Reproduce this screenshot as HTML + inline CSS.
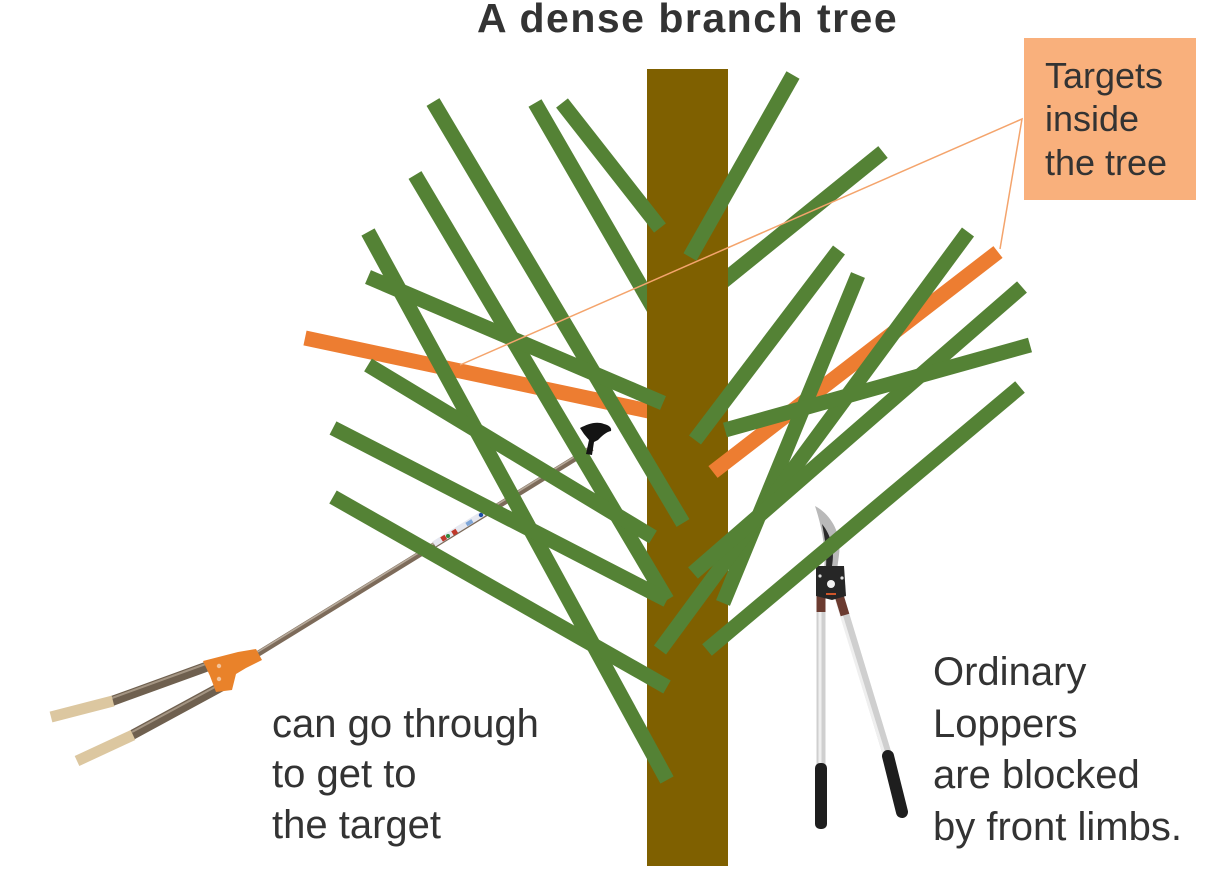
<!DOCTYPE html>
<html>
<head>
<meta charset="utf-8">
<style>
  html,body{margin:0;padding:0;background:#fff;}
  svg{display:block;}
  text{font-family:"Liberation Sans", Arial, sans-serif; fill:#333;}
</style>
</head>
<body>
<svg width="1216" height="883" viewBox="0 0 1216 883" xmlns="http://www.w3.org/2000/svg">
  <rect x="0" y="0" width="1216" height="883" fill="#fff"/>

  <!-- Title -->
  <text x="477" y="32" font-size="41" font-weight="bold" letter-spacing="1.5">A dense branch tree</text>

  <!-- Long reach lopper: pole & handles (under branches) -->
  <g>
    <line x1="592" y1="448" x2="256" y2="655" stroke="#7d6b5a" stroke-width="6"/>
    <line x1="592" y1="446" x2="256" y2="653" stroke="#b7aa9b" stroke-width="1.6"/>
    <!-- label on pole -->
    <line x1="434" y1="544" x2="484" y2="513" stroke="#e6e8f0" stroke-width="6"/>
    <rect x="441" y="536" width="5" height="5" fill="#c0392b" transform="rotate(-32 443 538)"/>
    <rect x="452" y="530" width="5" height="5" fill="#c0392b" transform="rotate(-32 454 532)"/>
    <circle cx="448" cy="536" r="2" fill="#2e8b3e"/>
    <rect x="466" y="521" width="7" height="4" fill="#7fa6d8" transform="rotate(-32 469 523)"/>
    <circle cx="481" cy="515" r="2.2" fill="#1f4fa8"/>
    <!-- upper handle -->
    <line x1="214" y1="664" x2="112" y2="701" stroke="#6f604f" stroke-width="10"/>
    <line x1="214" y1="661" x2="112" y2="698" stroke="#a49583" stroke-width="2"/>
    <line x1="113" y1="701" x2="51" y2="717" stroke="#dcc7a0" stroke-width="11"/>
    <!-- lower handle -->
    <line x1="226" y1="684" x2="132" y2="735" stroke="#6f604f" stroke-width="10"/>
    <line x1="226" y1="681" x2="132" y2="732" stroke="#a49583" stroke-width="2"/>
    <line x1="133" y1="735" x2="77" y2="761" stroke="#dcc7a0" stroke-width="11"/>
    <!-- orange bracket -->
    <path d="M203,661 L238,652 L256,649 L262,660 L246,668 L236,674 L232,690 L216,692 L210,676 Z" fill="#e9822a"/>
    <circle cx="219" cy="666" r="2.2" fill="#f3c39a"/>
    <circle cx="219" cy="679" r="2.2" fill="#f3c39a"/>
  </g>

  <!-- Ordinary loppers (right) -->
  <g>
    <!-- left handle -->
    <line x1="821" y1="588" x2="821" y2="768" stroke="#cfcfcf" stroke-width="9"/>
    <line x1="820" y1="600" x2="820" y2="765" stroke="#efefef" stroke-width="3"/>
    <rect x="815" y="763" width="12" height="66" rx="5" fill="#1e1e1e"/>
    <!-- right handle -->
    <line x1="838" y1="592" x2="889" y2="760" stroke="#cfcfcf" stroke-width="9"/>
    <line x1="836" y1="598" x2="886" y2="760" stroke="#efefef" stroke-width="3"/>
    <line x1="888" y1="756" x2="902" y2="812" stroke="#1e1e1e" stroke-width="12" stroke-linecap="round"/>
    <!-- reddish upper handle parts -->
    <line x1="821" y1="588" x2="821" y2="612" stroke="#6b3b30" stroke-width="9"/>
    <line x1="838" y1="592" x2="845" y2="615" stroke="#6b3b30" stroke-width="9"/>
    <!-- blade -->
    <path d="M815,506 C830,514 842,532 839,555 L837,570 L824,572 C826,552 823,530 815,506 Z" fill="#b9b9b9"/>
    <path d="M822,524 C831,535 835,550 832,566 L826,568 C827,552 825,538 822,524 Z" fill="#2b2b2b"/>
    <!-- pivot -->
    <path d="M816,566 L844,566 L846,596 L832,600 L816,596 Z" fill="#262626"/>
    <circle cx="831" cy="584" r="4" fill="#f2f2f2"/>
    <circle cx="820" cy="576" r="1.6" fill="#ddd"/>
    <circle cx="842" cy="578" r="1.6" fill="#ddd"/>
    <line x1="826" y1="594" x2="836" y2="594" stroke="#d0562a" stroke-width="2"/>
  </g>

  <!-- Branches behind trunk -->
  <g stroke-width="15" fill="none">
    <line x1="535" y1="103" x2="665" y2="328" stroke="#548235"/>
    <line x1="883" y1="152" x2="700" y2="300" stroke="#548235"/>
    <line x1="305" y1="338" x2="672" y2="416" stroke="#ED7D31"/>
  </g>

  <!-- Trunk -->
  <rect x="647" y="69" width="81" height="797" fill="#7F6000"/>

  <!-- Orange target (right) under greens -->
  <line x1="998" y1="252" x2="713" y2="472" stroke="#ED7D31" stroke-width="15"/>

  <!-- Green branches on top -->
  <g stroke="#548235" stroke-width="15" fill="none">
    <line x1="433" y1="102" x2="683" y2="523"/>
    <line x1="415" y1="175" x2="667" y2="600"/>
    <line x1="368" y1="232" x2="667" y2="780"/>
    <line x1="562" y1="103" x2="660" y2="228"/>
    <line x1="368" y1="277" x2="663" y2="403"/>
    <line x1="368" y1="365" x2="653" y2="537"/>
    <line x1="333" y1="428" x2="667" y2="600"/>
    <line x1="333" y1="497" x2="667" y2="687"/>
    <line x1="793" y1="75" x2="690" y2="257"/>
    <line x1="839" y1="250" x2="695" y2="440"/>
    <line x1="858" y1="275" x2="723" y2="603"/>
    <line x1="968" y1="232" x2="660" y2="650"/>
    <line x1="1022" y1="287" x2="693" y2="573"/>
    <line x1="1030" y1="345" x2="725" y2="430"/>
    <line x1="1020" y1="387" x2="707" y2="650"/>
  </g>

  <!-- Long lopper head on top -->
  <path d="M586,454 L589,440 L584,434 L580,428 C588,424 596,421 604,424 C609,425 612,428 611,431 C606,432 602,436 598,440 L594,442 L592,455 Z" fill="#141414"/>

  <!-- Callout box -->
  <rect x="1024" y="38" width="172" height="162" fill="#F9B07C"/>
  <text x="1045" y="88" font-size="36">Targets</text>
  <text x="1045" y="131" font-size="36">inside</text>
  <text x="1045" y="175" font-size="36">the tree</text>

  <!-- Callout lines -->
  <polyline points="460,365 1022,119 1000,249" fill="none" stroke="#F4A46C" stroke-width="1.5"/>

  <!-- Labels -->
  <text x="272" y="737" font-size="40">can go through</text>
  <text x="272" y="787" font-size="40">to get to</text>
  <text x="272" y="838" font-size="40">the target</text>

  <text x="933" y="685" font-size="40">Ordinary</text>
  <text x="933" y="737" font-size="40">Loppers</text>
  <text x="933" y="788" font-size="40">are blocked</text>
  <text x="933" y="840" font-size="40">by front limbs.</text>
</svg>
</body>
</html>
